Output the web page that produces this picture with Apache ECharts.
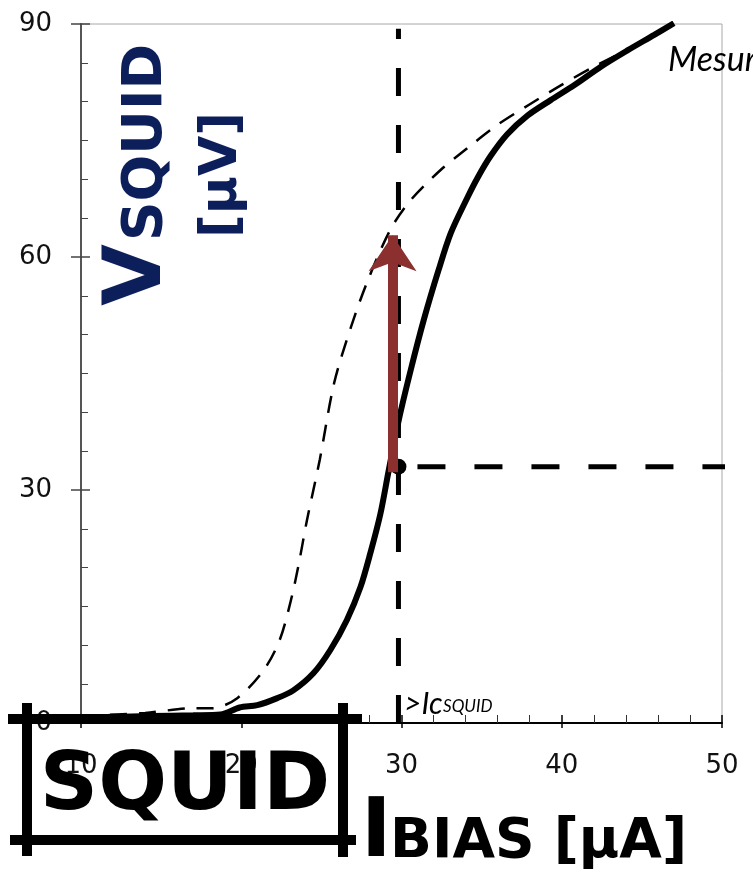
<!DOCTYPE html>
<html>
<head>
<meta charset="utf-8">
<script src="https://cdn.jsdelivr.net/npm/echarts@6/dist/echarts.min.js"></script>
<style>
    html, body {margin: 0; padding: 0; background: #fff;}
    #chart {width: 753px; height: 875px;}
</style>
</head>
<body>
<div id="chart"></div>
<script>
// courbe pleine (trait épais)
var solidCurve = [
    [10, 0.6], [12, 0.8], [14.3, 0.9], [17, 1.0], [18.7, 1.1], [19.9, 2.0], [21, 2.3],
    [22.25, 3.2], [23.25, 4.2], [24.5, 6.4], [25.56, 9.4], [26.6, 13.3], [27.44, 17.5],
    [28.06, 21.9], [28.69, 27], [29.2, 32.5], [29.83, 39.0], [30.57, 45.4], [31.39, 51.9],
    [32.31, 58.3], [33.08, 63.1], [34.1, 67.6], [34.8, 70.4], [35.56, 73.0], [36.6, 75.8],
    [37.86, 78.2], [39.31, 80.2], [40.77, 82.1], [42.44, 84.5], [44.1, 86.6], [45.77, 88.6],
    [47.0, 90.1]
];
// courbe en tirets (trait fin)
var dashedCurve = [
    [10, 0.9], [14, 1.3], [17, 1.9], [18.2, 1.9], [19.75, 3.2], [21.4, 6.8], [22.4, 10.7],
    [23.1, 15.8], [23.6, 20.6], [24.1, 26.1], [24.9, 33.9], [25.8, 43.8], [26.85, 51],
    [27.9, 57], [29.3, 63.5], [30.56, 67.3], [32.44, 71.2], [34.1, 74.0], [35.98, 77.0],
    [37.96, 79.6], [39.94, 82.1], [42.0, 84.5], [44.1, 86.7], [45.77, 88.7], [47.0, 90.2]
];
// point de fonctionnement et flèche
var icPoint = [29.81, 33];
var vLine = [[29.81, 0], [29.81, 89.4]];
var hLine = [[29.81, 33], [50.55, 33]];
var arrowCoords = [[29.44, 32.3], [29.44, 62.8]];

var xTicks = {min: 10, max: 50, interval: 10};
var yTicks = {min: 0, max: 90, interval: 30};

var navy = '#0c1f5b';
var chart = echarts.init(document.getElementById('chart'));

var option = {
    animation: false,
    grid: {
        left: 81, right: 31, top: 24, bottom: 152,
        show: true, borderColor: '#a8a8a8', borderWidth: 1
    },
    xAxis: [
        {
            type: 'value', min: xTicks.min, max: xTicks.max, interval: xTicks.interval,
            splitLine: {show: false},
            axisLine: {lineStyle: {color: '#000', width: 2}},
            axisTick: {inside: true, length: 8, lineStyle: {color: '#000', width: 1.5}},
            minorTick: {show: true, splitNumber: 5, length: 8, lineStyle: {color: '#333', width: 1}},
            axisLabel: {
                margin: 30, color: '#111', fontSize: 26, fontFamily: 'DejaVu Sans'
            }
        },
        {
            type: 'value', min: xTicks.min, max: xTicks.max, interval: xTicks.interval,
            position: 'bottom',
            splitLine: {show: false},
            axisLine: {show: false},
            axisTick: {inside: false, length: 5, lineStyle: {color: '#000', width: 1.5}},
            axisLabel: {show: false}
        }
    ],
    yAxis: [
        {
            type: 'value', min: yTicks.min, max: yTicks.max, interval: yTicks.interval,
            splitLine: {show: false},
            axisLine: {lineStyle: {color: '#555', width: 2}},
            axisTick: {inside: true, length: 9, lineStyle: {color: '#444', width: 1.5}},
            minorTick: {show: true, splitNumber: 6, length: 7, lineStyle: {color: '#444', width: 1}},
            axisLabel: {
                margin: 29, color: '#111', fontSize: 26, fontFamily: 'DejaVu Sans'
            }
        },
        {
            type: 'value', min: yTicks.min, max: yTicks.max, interval: yTicks.interval,
            position: 'left',
            splitLine: {show: false},
            axisLine: {show: false},
            axisTick: {inside: false, length: 10, lineStyle: {color: '#444', width: 1.5}},
            axisLabel: {show: false}
        }
    ],
    series: [
        {
            type: 'line', data: dashedCurve, smooth: 0.3, symbol: 'none', z: 3,
            lineStyle: {color: '#000', width: 2.5, type: [17, 12]}
        },
        {
            type: 'line', data: solidCurve, smooth: 0.3, symbol: 'none', z: 4,
            lineStyle: {color: '#000', width: 6}
        },
        {
            type: 'line', data: vLine, symbol: 'none', z: 5,
            lineStyle: {color: '#000', width: 5, type: [28, 29]}
        },
        {
            type: 'line', data: hLine, symbol: 'none', z: 5, clip: false,
            lineStyle: {color: '#000', width: 5, type: [28, 29], dashOffset: 38}
        },
        {
            type: 'scatter', data: [icPoint], symbolSize: 16, z: 6,
            itemStyle: {color: '#000', opacity: 1}
        },
        {
            type: 'lines', coordinateSystem: 'cartesian2d', z: 7,
            symbol: ['none', 'arrow'], symbolSize: 36,
            lineStyle: {color: '#8b2f2f', width: 10, opacity: 1, curveness: 0},
            data: [{coords: arrowCoords}]
        }
    ],
    graphic: [
        // V SQUID [µV] (vertical)
        {
            type: 'text', x: 139, y: 275, rotation: Math.PI / 2, z: 20,
            style: {
                text: 'V', fill: navy, fontSize: 80, fontWeight: 'bold', fontFamily: 'DejaVu Sans',
                textAlign: 'center', align: 'center', textVerticalAlign: 'middle', verticalAlign: 'middle'
            }
        },
        {
            type: 'text', x: 146.5, y: 142.5, rotation: Math.PI / 2, z: 20,
            style: {
                text: 'SQUID', fill: navy, fontSize: 55, fontWeight: 'bold', fontFamily: 'DejaVu Sans',
                textAlign: 'center', align: 'center', textVerticalAlign: 'middle', verticalAlign: 'middle'
            }
        },
        {
            type: 'text', x: 222, y: 175, rotation: Math.PI / 2, z: 20,
            style: {
                text: '[µV]', fill: navy, fontSize: 52, fontWeight: 'bold', fontFamily: 'DejaVu Sans',
                textAlign: 'center', align: 'center', textVerticalAlign: 'middle', verticalAlign: 'middle'
            }
        },
        // Mesur(e)
        {
            type: 'text', x: 668, y: 60, z: 20,
            style: {
                text: 'Mesur', fill: '#000', fontSize: 34, fontStyle: 'italic', fontFamily: 'Lato',
                textAlign: 'left', align: 'left', textVerticalAlign: 'middle', verticalAlign: 'middle'
            }
        },
        // >Ic SQUID
        {
            type: 'text', x: 404, y: 704, z: 20,
            style: {
                text: '>Ic', fill: '#000', fontSize: 30, fontStyle: 'italic', fontFamily: 'Lato',
                textAlign: 'left', align: 'left', textVerticalAlign: 'middle', verticalAlign: 'middle'
            }
        },
        {
            type: 'text', x: 443, y: 707, z: 20,
            style: {
                text: 'SQUID', fill: '#000', fontSize: 17, fontStyle: 'italic', fontFamily: 'Lato',
                textAlign: 'left', align: 'left', textVerticalAlign: 'middle', verticalAlign: 'middle'
            }
        },
        // cadre SQUID
        {type: 'line', z: 21, shape: {x1: 8, y1: 719, x2: 362, y2: 719}, style: {stroke: '#000', lineWidth: 10}},
        {type: 'line', z: 21, shape: {x1: 10, y1: 840, x2: 356, y2: 840}, style: {stroke: '#000', lineWidth: 10}},
        {type: 'line', z: 21, shape: {x1: 27, y1: 703, x2: 27, y2: 856}, style: {stroke: '#000', lineWidth: 10}},
        {type: 'line', z: 21, shape: {x1: 343, y1: 703, x2: 343, y2: 857}, style: {stroke: '#000', lineWidth: 10}},
        {
            type: 'text', x: 185, y: 788, z: 22,
            style: {
                text: 'SQUID', fill: '#000', fontSize: 81, fontWeight: 'bold', fontFamily: 'DejaVu Sans',
                textAlign: 'center', align: 'center', textVerticalAlign: 'middle', verticalAlign: 'middle'
            }
        },
        // I BIAS [µA]
        {
            type: 'text', x: 361, y: 835, z: 22,
            style: {
                text: 'I', fill: '#000', fontSize: 82, fontWeight: 'bold', fontFamily: 'DejaVu Sans',
                textAlign: 'left', align: 'left', textVerticalAlign: 'middle', verticalAlign: 'middle'
            }
        },
        {
            type: 'text', x: 390, y: 843, z: 22,
            style: {
                text: 'BIAS [µA]', fill: '#000', fontSize: 55, fontWeight: 'bold', fontFamily: 'DejaVu Sans',
                textAlign: 'left', align: 'left', textVerticalAlign: 'middle', verticalAlign: 'middle'
            }
        }
    ]
};
chart.setOption(option);
</script>
</body>
</html>
